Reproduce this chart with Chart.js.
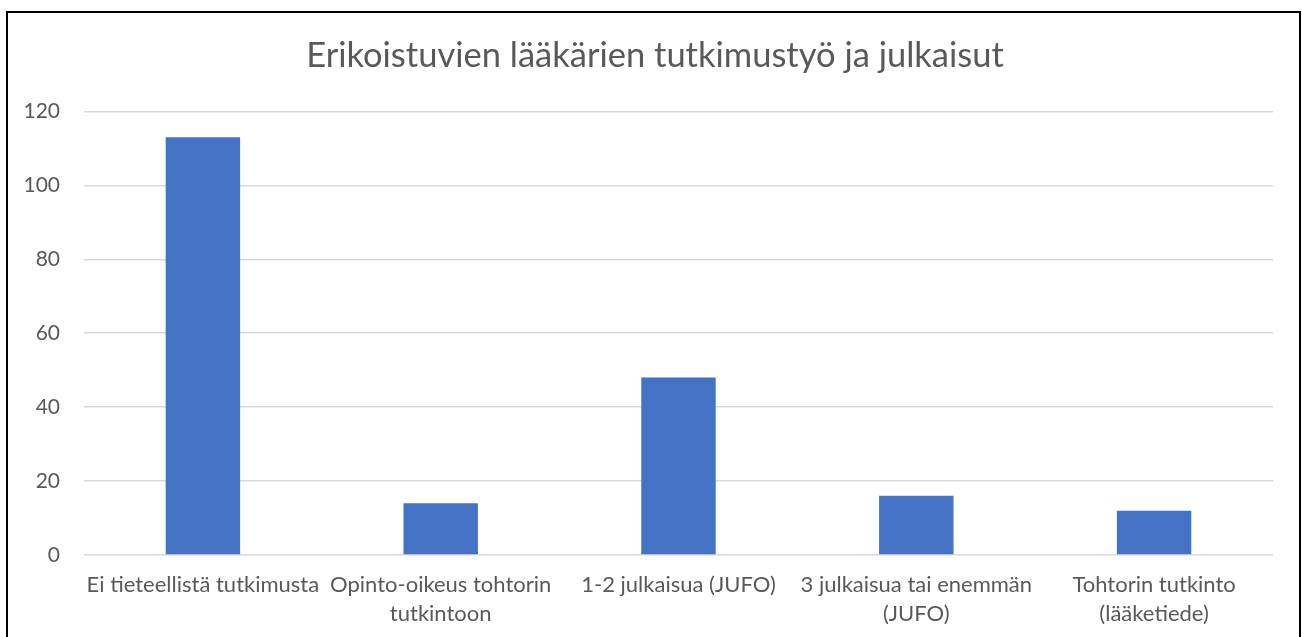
<!DOCTYPE html>
<html>
<head>
<meta charset="utf-8">
<script src="https://cdn.jsdelivr.net/npm/chart.js@4"></script>
<style>
  html, body { margin: 0; padding: 0; background: #fff; }
  #wrap { position: relative; width: 1302px; height: 637px; overflow: hidden; }
  #frame { position: absolute; left: 6px; top: 11px; width: 1295px; height: 700px; border: 2px solid #000; pointer-events: none; box-sizing: border-box; }
  canvas { position: absolute; left: 0; top: 0; }
</style>
</head>
<body>
<div id="wrap">
  <canvas id="c" width="1302" height="637"></canvas>
  <div id="frame"></div>
</div>
<script>
const titleText = "Erikoistuvien lääkärien tutkimustyö ja julkaisut";
const categories = [
  "Ei tieteellistä tutkimusta",
  ["Opinto-oikeus tohtorin", "tutkintoon"],
  "1-2 julkaisua (JUFO)",
  ["3 julkaisua tai enemmän", "(JUFO)"],
  ["Tohtorin tutkinto", "(lääketiede)"]
];
const values = [113, 14, 48, 16, 12];
const yTicks = [0, 20, 40, 60, 80, 100, 120];

const FONT = "Lato, 'Open Sans', sans-serif";
const TXT = "#595959";

new Chart(document.getElementById("c"), {
  type: "bar",
  data: {
    labels: categories,
    datasets: [{
      data: values,
      backgroundColor: "#4472C4",
      borderWidth: 0,
      categoryPercentage: 1,
      barPercentage: 0.313
    }]
  },
  options: {
    responsive: false,
    animation: false,
    devicePixelRatio: 1,
    layout: { padding: { left: 8, right: 0, top: 0, bottom: 0 } },
    plugins: {
      legend: { display: false },
      tooltip: { enabled: false },
      title: {
        display: true,
        text: titleText,
        color: TXT,
        font: { family: FONT, size: 34.5, weight: "normal", lineHeight: 1.2 },
        padding: { top: 35, bottom: 35 }
      }
    },
    scales: {
      x: {
        grid: { display: false, drawTicks: false },
        border: { display: false },
        ticks: {
          color: TXT,
          font: { family: FONT, size: 22, lineHeight: 1.32 },
          padding: 15,
          maxRotation: 0,
          autoSkip: false
        },
        afterFit: (s) => { s.height = 82; }
      },
      y: {
        min: 0,
        max: 120,
        afterBuildTicks: (s) => { s.ticks = yTicks.map(v => ({ value: v })); },
        grid: { color: "#d9d9d9", lineWidth: 1.5, drawTicks: false },
        border: { display: false },
        ticks: {
          color: TXT,
          font: { family: FONT, size: 21 },
          padding: 24
        },
        afterFit: (s) => { s.width = 76; }
      },
      yRight: {
        position: "right",
        display: true,
        min: 0,
        max: 120,
        grid: { display: false, drawTicks: false },
        border: { display: false },
        ticks: { display: false },
        afterFit: (s) => { s.width = 29; }
      }
    }
  }
});
</script>
</body>
</html>
